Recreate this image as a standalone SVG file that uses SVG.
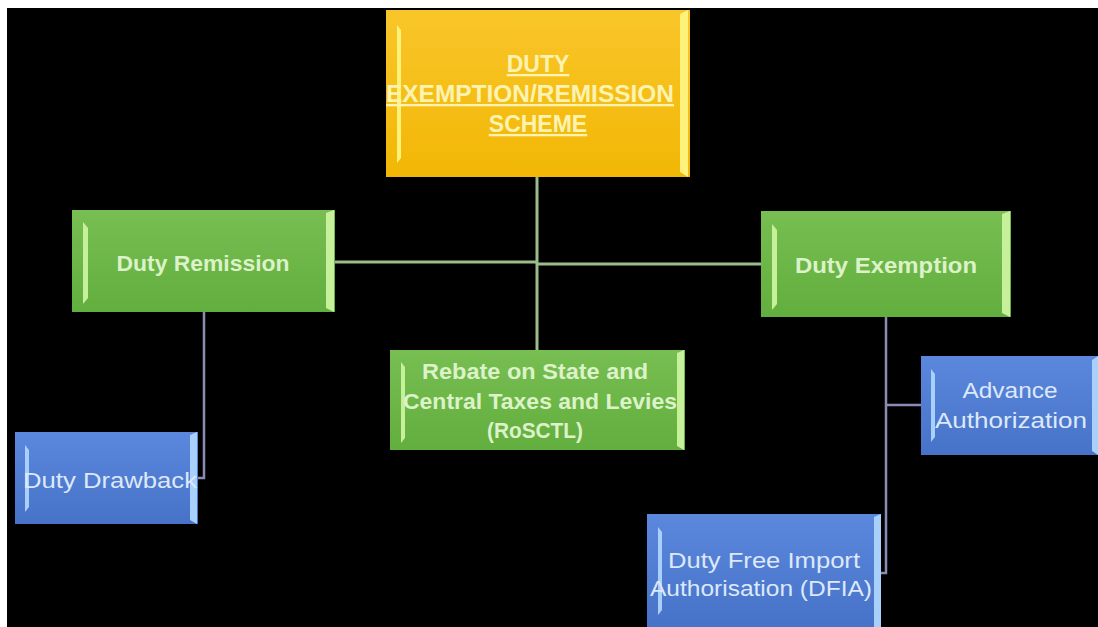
<svg xmlns="http://www.w3.org/2000/svg" width="1098" height="627" viewBox="0 0 1098 627">
<defs>
<linearGradient id="gy" x1="0" y1="0" x2="0" y2="1"><stop offset="0" stop-color="#f9c62a"/><stop offset="1" stop-color="#f2b705"/></linearGradient>
<linearGradient id="gg" x1="0" y1="0" x2="0" y2="1"><stop offset="0" stop-color="#78be52"/><stop offset="1" stop-color="#62ae3e"/></linearGradient>
<linearGradient id="gb" x1="0" y1="0" x2="0" y2="1"><stop offset="0" stop-color="#5b88dc"/><stop offset="1" stop-color="#4673c8"/></linearGradient>
</defs>
<style>
.ty{font-family:"Liberation Sans",Arial,sans-serif;font-weight:bold;fill:#fdf3b0;text-decoration:underline;font-size:23px}
.tg{font-family:"Liberation Sans",Arial,sans-serif;font-weight:bold;fill:#dcf2c8;font-size:22px}
.tb{font-family:"Liberation Sans",Arial,sans-serif;fill:#dde8fa;font-size:22px}
.cg{stroke:#9cbc8c;stroke-width:3;fill:none}
.cb{stroke:#8a8cb4;stroke-width:2.5;fill:none}
.ly{fill:#fff27a}
.lg{fill:#c6f09a}
.lb{fill:#a9d0fb}
</style>
<rect width="1098" height="627" fill="#ffffff"/>
<rect x="7" y="8" width="1091" height="619" fill="#000000"/>

<g id="connectors">
<line class="cg" x1="537" y1="177" x2="537" y2="350"/>
<line class="cg" x1="335" y1="262" x2="537" y2="262"/>
<line class="cg" x1="537" y1="264" x2="761" y2="264"/>
<polyline class="cb" points="204,312 204,478 198,478"/>
<polyline class="cb" points="886,317 886,573 881,573"/>
<line class="cb" x1="886" y1="405" x2="921" y2="405"/>
</g>

<g id="scheme">
<rect x="386" y="10" width="304" height="167" fill="url(#gy)"/>
<polygon class="ly" points="397,25 401,30 401,158 397,163"/>
<polygon class="ly" points="680,14 688,10 688,177 680,172"/>
<text class="ty" x="538" y="72" text-anchor="middle">DUTY</text>
<text class="ty" x="530" y="102" text-anchor="middle" textLength="288" lengthAdjust="spacingAndGlyphs">EXEMPTION/REMISSION</text>
<text class="ty" x="538" y="132" text-anchor="middle">SCHEME</text>
</g>

<g id="remission">
<rect x="72" y="210" width="263" height="102" fill="url(#gg)"/>
<polygon class="lg" points="83,222 88,228 88,298 83,304"/>
<polygon class="lg" points="326,213 334,210 334,312 326,308"/>
<text class="tg" x="203" y="271" text-anchor="middle" textLength="173" lengthAdjust="spacingAndGlyphs">Duty Remission</text>
</g>

<g id="exemption">
<rect x="761" y="211" width="250" height="106" fill="url(#gg)"/>
<polygon class="lg" points="772,224 777,230 777,304 772,310"/>
<polygon class="lg" points="1002,214 1010,211 1010,317 1002,313"/>
<text class="tg" x="886" y="273" text-anchor="middle" textLength="182" lengthAdjust="spacingAndGlyphs">Duty Exemption</text>
</g>

<g id="rosctl">
<rect x="390" y="350" width="295" height="100" fill="url(#gg)"/>
<polygon class="lg" points="401,362 405,367 405,438 401,443"/>
<polygon class="lg" points="677,353 684,350 684,450 677,446"/>
<text class="tg" x="535" y="379" text-anchor="middle" textLength="226" lengthAdjust="spacingAndGlyphs">Rebate on State and</text>
<text class="tg" x="540" y="409" text-anchor="middle" textLength="274" lengthAdjust="spacingAndGlyphs">Central Taxes and Levies</text>
<text class="tg" x="535" y="438" text-anchor="middle" textLength="96" lengthAdjust="spacingAndGlyphs">(RoSCTL)</text>
</g>

<g id="drawback">
<rect x="15" y="432" width="183" height="92" fill="url(#gb)"/>
<polygon class="lb" points="25,445 29,450 29,507 25,512"/>
<polygon class="lb" points="190,435 197,432 197,524 190,520"/>
<text class="tb" x="110" y="488" text-anchor="middle" textLength="174" lengthAdjust="spacingAndGlyphs">Duty Drawback</text>
</g>

<g id="advance">
<rect x="921" y="356" width="177" height="99" fill="url(#gb)"/>
<polygon class="lb" points="931,369 935,374 935,437 931,442"/>
<polygon class="lb" points="1092,360 1098,356 1098,455 1092,451"/>
<text class="tb" x="1010" y="398" text-anchor="middle" textLength="95" lengthAdjust="spacingAndGlyphs">Advance</text>
<text class="tb" x="1011" y="428" text-anchor="middle" textLength="152" lengthAdjust="spacingAndGlyphs">Authorization</text>
</g>

<g id="dfia">
<rect x="647" y="514" width="234" height="113" fill="url(#gb)"/>
<polygon class="lb" points="658,527 662,532 662,610 658,615"/>
<polygon class="lb" points="874,517 881,514 881,627 874,627"/>
<text class="tb" x="764" y="568" text-anchor="middle" textLength="192" lengthAdjust="spacingAndGlyphs">Duty Free Import</text>
<text class="tb" x="761" y="596" text-anchor="middle" textLength="222" lengthAdjust="spacingAndGlyphs">Authorisation (DFIA)</text>
</g>
</svg>
